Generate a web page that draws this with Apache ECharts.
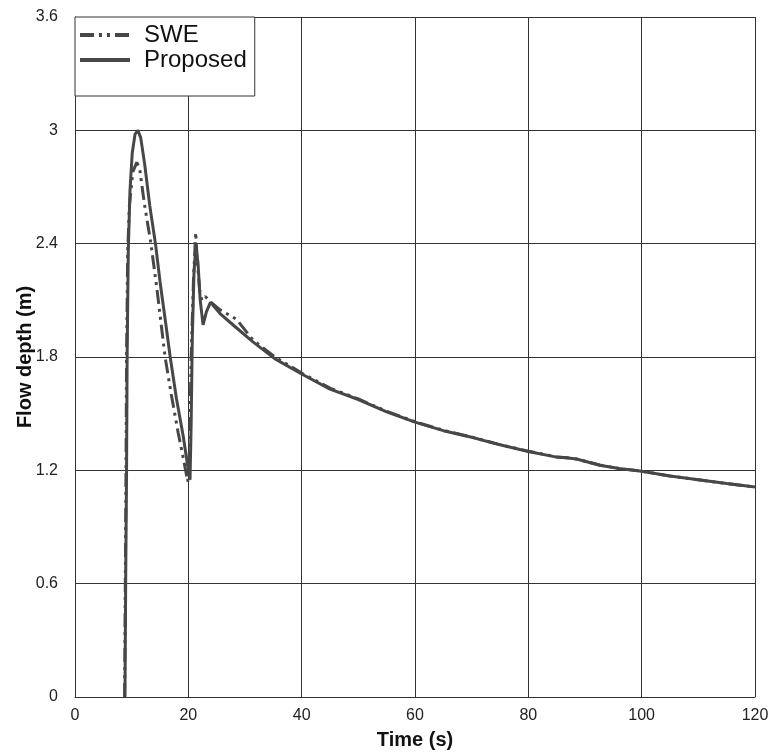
<!DOCTYPE html>
<html>
<head>
<meta charset="utf-8">
<title>Flow depth</title>
<script src="https://cdn.jsdelivr.net/npm/echarts@6/dist/echarts.min.js"></script>
<style>
  html, body { margin: 0; padding: 0; background: #fff; }
  #chart { width: 771px; height: 755px; }
</style>
</head>
<body>
<div id="chart"></div>
<script>
// values
var seriesNames = ['SWE', 'Proposed'];
var xTicks = [0, 20, 40, 60, 80, 100, 120];
var yTicks = [0, 0.6, 1.2, 1.8, 2.4, 3, 3.6];

var timeProposed = [8.82, 8.94, 9.1, 9.2, 9.4, 9.7, 10.1, 10.6, 11.1, 11.6, 12.3, 13.2, 14.2, 15.0, 16.0, 16.8, 17.9, 19.1, 19.8, 20.3,
  20.5, 20.7, 21.0, 21.3, 21.7, 22.1, 22.6, 23.2, 23.9, 25.6, 27.5, 31.4, 35.3, 40, 45, 50, 55, 60, 65, 70, 75, 80, 85, 87, 88.5,
  92.6, 96, 100, 105, 110, 115, 120];
var depthProposed = [0, 0.6, 1.2, 1.8, 2.36, 2.68, 2.88, 2.98, 3.0, 2.96, 2.82, 2.6, 2.4, 2.2, 1.98, 1.8, 1.58, 1.38, 1.24, 1.15,
  1.45, 1.9, 2.25, 2.38, 2.3, 2.1, 1.97, 2.04, 2.09, 2.03, 1.98, 1.88, 1.79, 1.71, 1.63, 1.575, 1.51, 1.455, 1.41, 1.375, 1.335, 1.30, 1.27, 1.265, 1.26,
  1.227, 1.21, 1.195, 1.17, 1.15, 1.13, 1.112];

var timeSWE = [8.75, 8.88, 9.0, 9.1, 9.3, 9.6, 10.2, 10.9, 11.4, 12.2, 13.4, 14.5, 15.9, 17.0, 18.2, 19.2, 19.9,
  20.2, 20.5, 20.9, 21.3, 21.6, 22.0, 22.4, 23.0, 23.6, 25.6, 28.5, 31.4, 35.3, 40, 45, 50, 55, 60, 65, 70, 75, 80, 85, 87, 88.5,
  92.6, 96, 100, 105, 110, 115, 120];
var depthSWE = [0, 0.6, 1.2, 1.8, 2.36, 2.6, 2.78, 2.83, 2.8, 2.62, 2.4, 2.15, 1.8, 1.6, 1.4, 1.25, 1.14,
  1.3, 1.8, 2.2, 2.46, 2.3, 2.15, 2.1, 2.12, 2.1, 2.05, 2.0, 1.89, 1.8, 1.715, 1.635, 1.578, 1.512, 1.457, 1.412, 1.376, 1.336, 1.301, 1.271, 1.266, 1.26,
  1.228, 1.21, 1.195, 1.17, 1.15, 1.13, 1.112];

function pairs(xs, ys) {
  var out = [];
  for (var i = 0; i < xs.length; i++) out.push([xs[i], ys[i]]);
  return out;
}

var chart = echarts.init(document.getElementById('chart'));
var lineColor = '#474747';
var axisColor = '#333';

var option = {
  animation: false,
  backgroundColor: '#fff',
  textStyle: { fontFamily: 'Liberation Sans, Arial, sans-serif' },
  grid: { left: 75, right: 16, top: 17, bottom: 58, outerBoundsMode: 'none', containLabel: false },
  legend: {
    data: seriesNames,
    orient: 'vertical',
    left: 75,
    top: 17,
    backgroundColor: '#fff',
    borderColor: axisColor,
    borderWidth: 1,
    borderRadius: 0,
    padding: [6, 8, 24, 3],
    itemGap: 1,
    itemWidth: 50,
    itemHeight: 14,
    itemStyle: { opacity: 0 },
    lineStyle: { width: 4 },
    textStyle: { fontSize: 24, color: '#111', padding: [0, 0, 0, 9], lineHeight: 24 }
  },
  xAxis: {
    type: 'value',
    min: 0, max: 120, interval: 20,
    name: 'Time (s)',
    nameLocation: 'middle',
    nameGap: 33,
    nameMoveOverlap: false,
    nameTextStyle: { fontSize: 20, fontWeight: 'bold', color: '#111' },
    axisLine: { show: true, lineStyle: { color: axisColor, width: 1 } },
    axisTick: { show: false },
    axisLabel: { fontSize: 16, color: '#222', margin: 11,
      formatter: function (v) { return xTicks.indexOf(v) >= 0 ? String(v) : ''; } },
    splitLine: { show: true, lineStyle: { color: axisColor, width: 1 } }
  },
  yAxis: {
    type: 'value',
    min: 0, max: 3.6, interval: 0.6,
    name: 'Flow depth (m)',
    nameLocation: 'middle',
    nameGap: 40,
    nameMoveOverlap: false,
    nameTextStyle: { fontSize: 20, fontWeight: 'bold', color: '#111' },
    axisLine: { show: true, lineStyle: { color: axisColor, width: 1 } },
    axisTick: { show: false },
    axisLabel: { fontSize: 16, color: '#222', margin: 17,
      formatter: function (v) {
        var r = Math.round(v * 10) / 10;
        return yTicks.indexOf(r) >= 0 ? String(r) : '';
      } },
    splitLine: { show: true, lineStyle: { color: axisColor, width: 1 } }
  },
  series: [
    {
      name: 'SWE',
      type: 'line',
      data: pairs(timeSWE, depthSWE),
      showSymbol: false,
      symbol: 'none',
      lineStyle: { color: lineColor, width: 3, type: [14, 5, 3, 5, 3, 5] },
      itemStyle: { color: lineColor },
      z: 3
    },
    {
      name: 'Proposed',
      type: 'line',
      data: pairs(timeProposed, depthProposed),
      showSymbol: false,
      symbol: 'none',
      lineStyle: { color: lineColor, width: 3 },
      itemStyle: { color: lineColor },
      z: 4
    }
  ]
};
chart.setOption(option);
</script>
</body>
</html>
